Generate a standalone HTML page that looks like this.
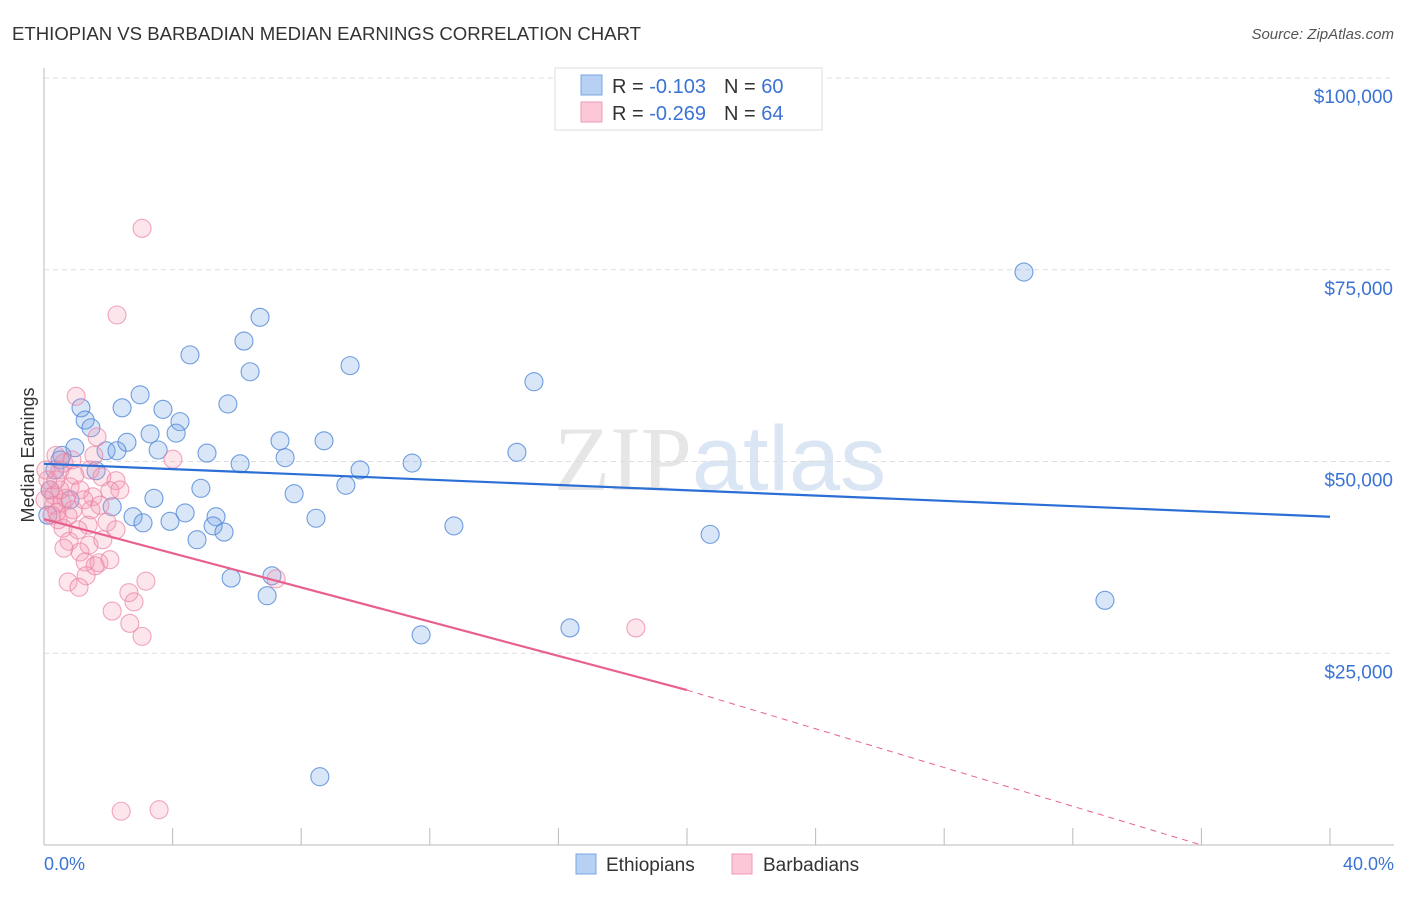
<!DOCTYPE html>
<html><head><meta charset="utf-8"><style>
body{margin:0;background:#fff;font-family:"Liberation Sans",sans-serif;}
</style></head><body>
<svg id="chart" width="1406" height="892" xmlns="http://www.w3.org/2000/svg" style="font-family:'Liberation Sans',sans-serif">
<text x="12" y="40" font-size="18" fill="#333" textLength="629" lengthAdjust="spacingAndGlyphs">ETHIOPIAN VS BARBADIAN MEDIAN EARNINGS CORRELATION CHART</text>
<text x="1394" y="39" font-size="15" fill="#555" font-style="italic" text-anchor="end">Source: ZipAtlas.com</text>
<text x="720" y="490" font-size="92" text-anchor="middle" fill="#e6e9ee"><tspan font-family="Liberation Serif" fill="#e6e6e6">ZIP</tspan><tspan fill="#dbe6f4">atlas</tspan></text>
<g id="grid"></g><g id="axes"></g><g id="pts"></g><g id="trends"></g>
<text transform="translate(34,455) rotate(-90)" font-size="18" fill="#333" text-anchor="middle">Median Earnings</text>
<text x="44" y="870" font-size="18" fill="#3b73d4">0.0%</text>
<text x="1394" y="870" font-size="18" fill="#3b73d4" text-anchor="end">40.0%</text>
<g>
<rect x="555" y="68" width="267" height="62" fill="#fff" stroke="#ddd"/>
<rect x="581" y="75" width="21" height="20" fill="#b7d1f3" stroke="#7aa5e3"/>
<rect x="581" y="102" width="21" height="20" fill="#fcc8d7" stroke="#ef9ab5"/>
<text x="612" y="93" font-size="20" fill="#333">R = <tspan fill="#3b73d4">-0.103</tspan><tspan dx="18">N = </tspan><tspan fill="#3b73d4">60</tspan></text>
<text x="612" y="120" font-size="20" fill="#333">R = <tspan fill="#3b73d4">-0.269</tspan><tspan dx="18">N = </tspan><tspan fill="#3b73d4">64</tspan></text>
</g>
<g>
<rect x="576" y="854" width="20" height="20" fill="#b7d1f3" stroke="#7aa5e3"/>
<text x="606" y="871" font-size="19" fill="#333">Ethiopians</text>
<rect x="732" y="854" width="20" height="20" fill="#fcc8d7" stroke="#ef9ab5"/>
<text x="763" y="871" font-size="19" fill="#333">Barbadians</text>
</g>
</svg>
<script>
const yTicks=[25000,50000,75000,100000];
const yTickLabels=["$25,000","$50,000","$75,000","$100,000"];
const xTicks=[0,4,8,12,16,20,24,28,32,36,40];
const blueX=[30.48,6.72,6.22,4.54,9.52,6.41,15.24,2.99,1.15,2.43,3.70,5.72,1.28,4.23,1.46,3.30,4.11,2.58,7.34,8.71,0.96,3.55,1.93,2.27,0.56,5.07,14.71,7.50,11.45,6.10,9.83,1.62,9.39,4.88,7.78,3.42,2.12,8.46,2.77,4.39,5.35,3.92,3.08,12.75,5.26,5.60,4.76,20.72,0.12,0.50,5.82,7.09,6.94,33.0,16.36,11.73,8.58,0.19,0.34,0.81];
const blueY=[74.7,68.8,65.7,63.9,62.5,61.7,60.4,58.7,57.0,57.0,56.8,57.5,55.4,55.2,54.4,53.6,53.7,52.5,52.7,52.7,51.8,51.5,51.4,51.4,50.8,51.1,51.2,50.5,49.8,49.7,48.9,48.8,46.9,46.5,45.8,45.2,44.1,42.6,42.8,43.3,42.8,42.2,42.0,41.6,41.6,40.8,39.8,40.5,43.0,50.2,34.8,35.1,32.5,31.9,28.3,27.4,8.9,46.3,48.9,45.0];
const pinkX=[3.05,2.27,1.0,1.65,0.37,4.01,0.62,1.43,1.80,2.24,0.81,2.05,1.52,1.12,0.19,0.31,0.56,0.90,1.46,1.96,2.24,0.59,0.78,1.40,1.12,0.31,0.12,1.28,1.71,2.05,1.59,1.31,0.75,1.09,3.17,7.22,2.64,2.80,2.12,2.67,3.05,18.41,2.40,3.58,0.50,0.68,0.96,0.25,0.44,1.24,1.74,0.87,1.37,0.50,0.03,0.06,0.37,1.83,1.06,1.55,0.75,2.36,0.62,0.40];
const pinkY=[80.4,69.1,58.5,53.2,50.8,50.3,49.8,48.9,48.0,47.5,46.7,46.2,45.4,46.3,46.3,45.6,44.6,43.7,43.7,42.1,41.1,41.3,39.6,39.1,38.2,44.3,47.6,36.9,36.8,37.2,36.4,35.1,34.3,33.6,34.4,34.7,32.9,31.7,30.5,28.9,27.2,28.3,4.4,4.6,48.9,45.2,48.2,43.0,42.4,45.0,44.3,50.2,41.7,46.3,45.0,48.9,47.6,39.8,41.1,50.8,42.9,46.3,38.7,43.4];
const blueTrend=[[0,49.7],[40,42.8]];
const pinkTrend=[[0,42.5],[20,20.2]];
const pinkDash=[[20,20.2],[36,0]];
const NS="http://www.w3.org/2000/svg";
const xs=v=>44+v/40*1286, ys=k=>845-k/100*767;
function mk(tag,attrs,parent){const e=document.createElementNS(NS,tag);for(const k in attrs)e.setAttribute(k,attrs[k]);document.getElementById(parent).appendChild(e);return e;}
yTicks.forEach((t,i)=>{const y=ys(t/1000);
 const l=mk('line',{x1:44,x2:1394,y1:y,y2:y,stroke:'#ddd','stroke-dasharray':'5,4'},'grid');
 
 
 const tx=mk('text',{x:1393,y:y+25,'font-size':19,fill:'#3b73d4','text-anchor':'end'},'grid');tx.textContent=yTickLabels[i];
 
 });
const ax=mk('line',{x1:44,x2:44,y1:68,y2:845,stroke:'#bbb'},'axes');


const bx=mk('line',{x1:44,x2:1394,y1:845,y2:845,stroke:'#bbb'},'axes');


xTicks.forEach(t=>{const x=xs(t);const l=mk('line',{x1:x,x2:x,y1:828,y2:845,stroke:'#bbb'},'axes');
 
 });
function pts(X,Y,fill,stroke,name){X.forEach((v,i)=>{const c=mk('circle',{cx:xs(v),cy:ys(Y[i]),r:9,fill:fill,stroke:stroke,'stroke-width':1.1},'pts');
 
 });}
pts(blueX,blueY,'rgba(120,165,230,0.28)','rgba(80,135,215,0.8)','ethiopian-point');
pts(pinkX,pinkY,'rgba(245,150,175,0.25)','rgba(235,130,165,0.7)','barbadian-point');
function ln(p,st,w,dash,name){const l=mk('line',{x1:xs(p[0][0]),y1:ys(p[0][1]),x2:xs(p[1][0]),y2:ys(p[1][1]),stroke:st,'stroke-width':w},'trends');if(dash)l.setAttribute('stroke-dasharray',dash);
 
 }
ln(blueTrend,'#2b6fd6',2.2,null,'ethiopian-trend-line');
ln(pinkTrend,'#e8608e',2.2,null,'barbadian-trend-line');
ln(pinkDash,'#e8608e',1,'6,5','barbadian-trend-extension');
</script>
</body></html>
